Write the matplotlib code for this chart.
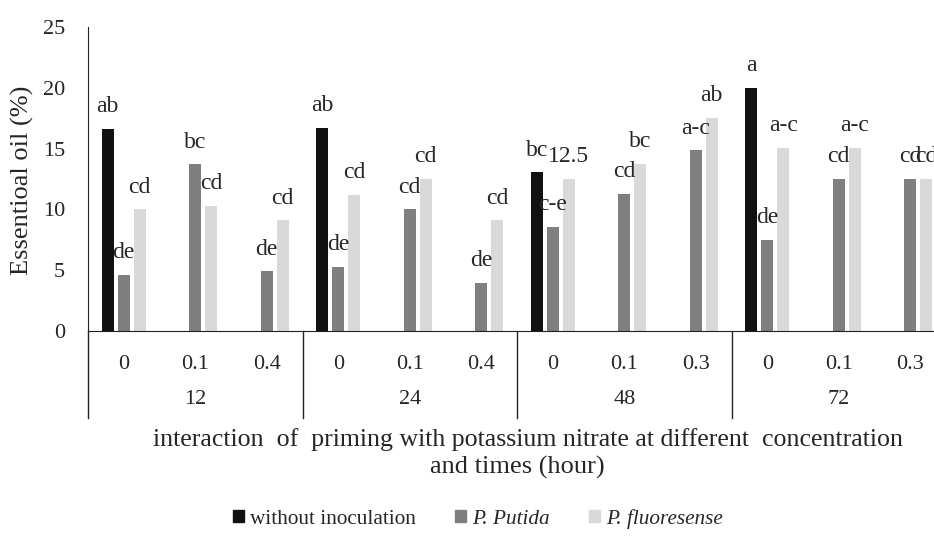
import numpy as np
import matplotlib
matplotlib.use("Agg")
import matplotlib.pyplot as plt
from matplotlib.patches import Patch

plt.rcParams['font.family'] = ['Liberation Serif', 'DejaVu Serif']

times = ['12', '24', '48', '72']
concentrations = ['0', '0.1', '0.4', '0', '0.1', '0.4', '0', '0.1', '0.3', '0', '0.1', '0.3']
series_names = ['without inoculation', 'P. Putida', 'P. fluoresense']
without_inoc = [16.6, np.nan, np.nan, 16.7, np.nan, np.nan, 13.05, np.nan, np.nan, 20.0, np.nan, np.nan]
putida = [4.6, 13.7, 4.9, 5.3, 10.0, 3.95, 8.55, 11.27, 14.86, 7.5, 12.5, 12.5]
fluoresense = [10.0, 10.3, 9.1, 11.2, 12.5, 9.1, 12.5, 13.76, 17.5, 15.05, 15.05, 12.5]
labels_without = ['ab', '', '', 'ab', '', '', 'bc', '', '', 'a', '', '']
labels_putida = ['de', 'bc', 'de', 'de', 'cd', 'de', 'c-e', 'cd', 'a-c', 'de', 'cd', 'cd']
labels_fluor = ['cd', 'cd', 'cd', 'cd', 'cd', 'cd', '12.5', 'bc', 'ab', 'a-c', 'a-c', 'cd']

colors = ['#111111', '#7f7f7f', '#d9d9d9']
text_color = '#262626'

W, H = 934, 545
fig = plt.figure(figsize=(W / 100, H / 100), dpi=100)
x0, x1, y0, y1 = 88, 946, 331, 27
ax = fig.add_axes([x0 / W, 1 - y0 / H, (x1 - x0) / W, (y0 - y1) / H])

n = len(concentrations)
x = np.arange(n)
bw = 0.168
step = 0.224
series = [without_inoc, putida, fluoresense]
labs = [labels_without, labels_putida, labels_fluor]
for i, (vals, lab, c) in enumerate(zip(series, labs, colors)):
    xs = x + (i - 1) * step
    ax.bar(xs, vals, width=bw, color=c, zorder=2)
    for xi, v, t in zip(xs, vals, lab):
        if t and not np.isnan(v):
            ax.annotate(t, xy=(xi, v), xytext=(0, 16), textcoords='offset points',
                        ha='center', va='center', fontsize=17, color=text_color)

ax.set_xlim(-0.5, n - 0.5)
ax.set_ylim(0, 25)
ax.set_yticks([0, 5, 10, 15, 20, 25])
ax.tick_params(axis='y', length=0, labelsize=16, labelcolor=text_color, pad=16.5)
ax.set_xticks([])
for s in ['top', 'right']:
    ax.spines[s].set_visible(False)
ax.spines['left'].set_color('#222222')
ax.spines['bottom'].set_color('#222222')
fig.text(22 / W, 1 - 180 / H, 'Essentioal oil (%)', rotation=90, ha='center', va='center',
         fontsize=19, color=text_color)

tr = ax.get_xaxis_transform()
ph = y0 - y1
for xi, c in zip(x, concentrations):
    ax.text(xi, -(364.5 - y0) / ph, c, transform=tr, ha='center', va='center',
            fontsize=16, color=text_color)
for g, t in enumerate(times):
    ax.text(g * 3 + 1, -(399 - y0) / ph, t, transform=tr, ha='center', va='center',
            fontsize=16, color=text_color)
for b in np.arange(-0.5, n + 0.5, 3):
    ax.plot([b, b], [0, -(418 - y0) / ph], transform=tr, color='#222222', lw=1.0,
            clip_on=False)

fig.text(528 / W, 1 - 440 / H, 'interaction  of  priming with potassium nitrate at different  concentration',
         ha='center', va='center', fontsize=18.6, color=text_color)
fig.text(517 / W, 1 - 467 / H, 'and times (hour)', ha='center', va='center',
         fontsize=19, color=text_color)

handles = [Patch(color=c) for c in colors]
leg = fig.legend(handles, series_names, loc='center', bbox_to_anchor=(478 / W, 1 - 519 / H),
                 ncol=3, frameon=False, fontsize=15.3, handlelength=0.5, handleheight=0.5,
                 handletextpad=0.3, columnspacing=1.85, borderpad=0)
for i, t in enumerate(leg.get_texts()):
    t.set_color(text_color)
    if i > 0:
        t.set_style('italic')

fig.savefig('out.png', dpi=100)
